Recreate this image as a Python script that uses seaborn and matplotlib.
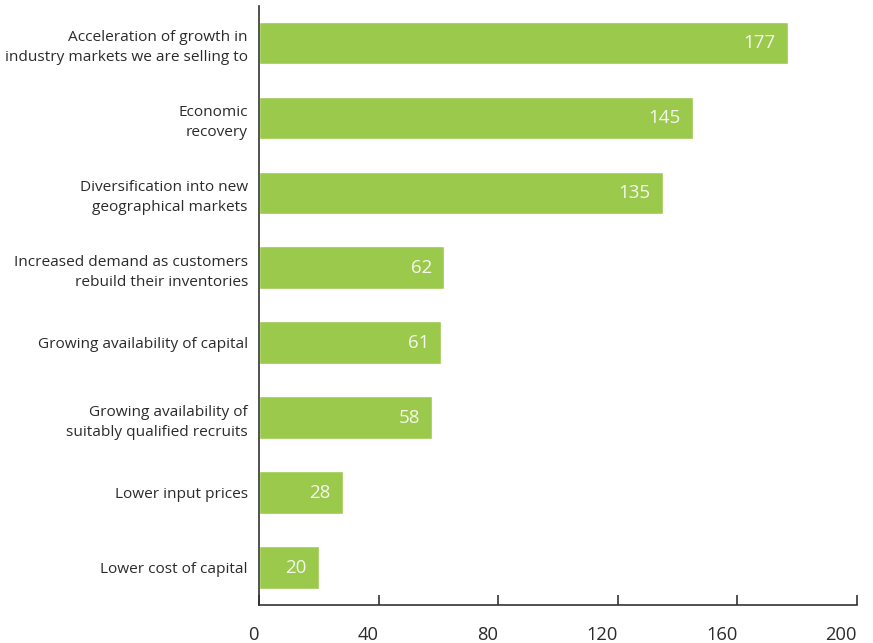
import matplotlib
matplotlib.use("Agg")
import matplotlib.pyplot as plt
import seaborn as sns
import pandas as pd

categories = [
    "Acceleration of growth in\nindustry markets we are selling to",
    "Economic\nrecovery",
    "Diversification into new\ngeographical markets",
    "Increased demand as customers\nrebuild their inventories",
    "Growing availability of capital",
    "Growing availability of\nsuitably qualified recruits",
    "Lower input prices",
    "Lower cost of capital",
]
values = [177, 145, 135, 62, 61, 58, 28, 20]
x_ticks = [0, 40, 80, 120, 160, 200]

df = pd.DataFrame({"factor": categories, "count": values})

sns.set_style("white")
plt.rcParams["font.family"] = ["Open Sans", "DejaVu Sans"]

bar_color = "#9BC94B"
text_color = "#2b2b2b"

fig = plt.figure(figsize=(8.73, 6.43), dpi=100)
ax = fig.add_axes([0.2967, 0.0591, 0.685, 0.9323])

sns.barplot(data=df, x="count", y="factor", orient="h", color=bar_color,
            width=0.57, saturation=1, ax=ax)

ax.set_xlim(0, 200)
ax.set_ylim(7.5, -0.5)
ax.set_xticks(x_ticks)
ax.set_xticklabels([str(t) for t in x_ticks], ha="right")
ax.set_xlabel("")
ax.set_ylabel("")

for side in ("top", "right"):
    ax.spines[side].set_visible(False)
for side in ("left", "bottom"):
    ax.spines[side].set_color("#333333")
    ax.spines[side].set_linewidth(1.2)

ax.tick_params(axis="x", bottom=True, direction="in", length=7, width=1.2,
               color="#333333", pad=15, labelsize=13.2, labelcolor=text_color)
ax.tick_params(axis="y", left=False, length=0, pad=8, labelsize=11.1,
               labelcolor=text_color)
for lbl in ax.get_yticklabels():
    lbl.set_linespacing(1.45)

for i, v in enumerate(values):
    ax.annotate(str(v), xy=(v, i), xytext=(-9, 0), textcoords="offset points",
                ha="right", va="center", fontsize=13.5, color="#f4f7ee")

fig.savefig("out.png", dpi=100)
